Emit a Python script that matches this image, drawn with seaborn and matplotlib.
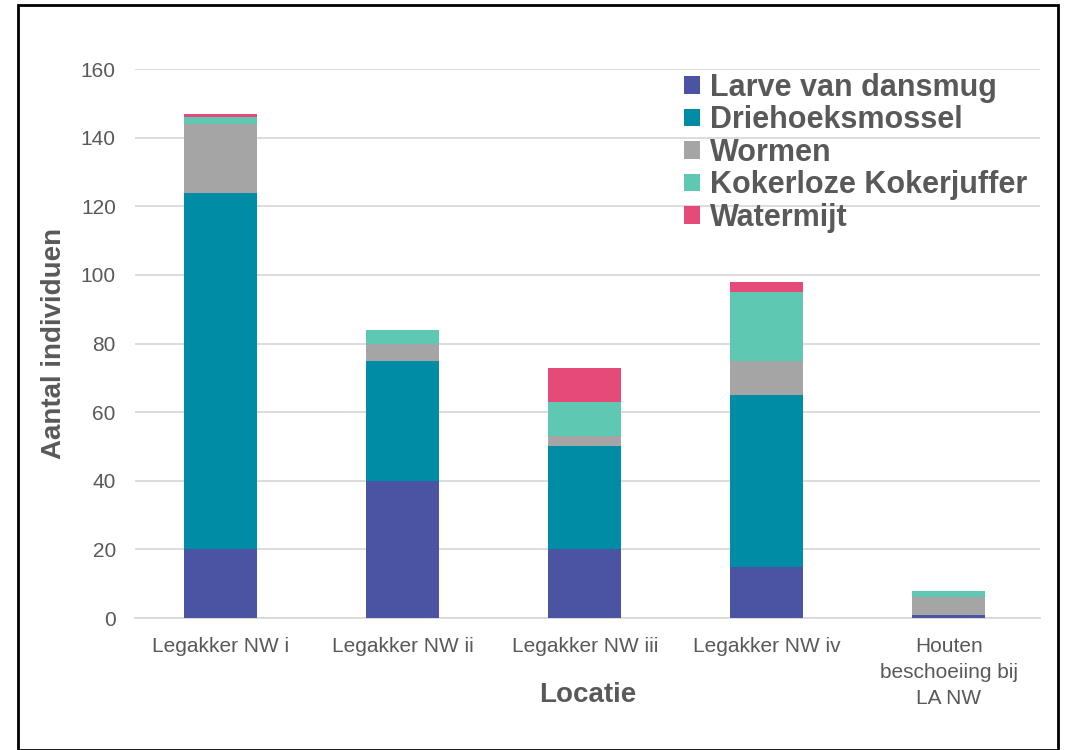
import numpy as np
import pandas as pd
import matplotlib
matplotlib.use("Agg")
import matplotlib.pyplot as plt
import seaborn as sns

# data
locations = ["Legakker NW i", "Legakker NW ii", "Legakker NW iii", "Legakker NW iv",
             "Houten\nbeschoeiing bij\nLA NW"]
larve = [20, 40, 20, 15, 1]
driehoek = [104, 35, 30, 50, 0]
wormen = [20, 5, 3, 10, 5]
kokerloze = [2, 4, 10, 20, 2]
watermijt = [1, 0, 10, 3, 0]

series = ["Larve van dansmug", "Driehoeksmossel", "Wormen", "Kokerloze Kokerjuffer", "Watermijt"]
colors = ["#4A54A3", "#008CA5", "#A5A5A5", "#5FC8B3", "#E54A79"]

df = pd.DataFrame({"Locatie": locations, series[0]: larve, series[1]: driehoek,
                   series[2]: wormen, series[3]: kokerloze, series[4]: watermijt})

sns.set_theme(style="white")
plt.rcParams["font.family"] = ["Liberation Sans", "DejaVu Sans"]
txt = "#595959"

fig = plt.figure(figsize=(10.73, 7.5), dpi=100)
ax = fig.add_axes([0.126, 0.176, 0.843, 0.732])

# stacked bars with seaborn, one layer at a time
bottom = np.zeros(len(locations))
for name, col in zip(series, colors):
    sns.barplot(data=df, x="Locatie", y=name, bottom=bottom, color=col, width=0.4,
                saturation=1, linewidth=0, label=name, ax=ax, zorder=3)
    bottom = bottom + df[name].values

ax.set_ylim(0, 160)
ax.set_yticks(range(0, 161, 20))
ax.set_xlim(-0.47, 4.5)
ax.yaxis.grid(True, color="#D9D9D9", linewidth=1.3, zorder=0)
for s in ["top", "right", "left"]:
    ax.spines[s].set_visible(False)
ax.spines["bottom"].set_color("#D9D9D9")
ax.spines["bottom"].set_linewidth(1.3)
ax.tick_params(axis="both", labelsize=15, colors=txt, length=0)
ax.tick_params(axis="x", pad=14)
ax.tick_params(axis="y", pad=14)
for lbl in ax.get_xticklabels():
    lbl.set_linespacing(1.45)

ax.set_ylabel("Aantal individuen", fontsize=20, fontweight="bold", color=txt, labelpad=10)
ax.set_xlabel("Locatie", fontsize=20, fontweight="bold", color=txt)
ax.xaxis.set_label_coords(0.5, -0.14)
ax.xaxis.label.set_va("center")

leg = ax.legend(loc="upper right", bbox_to_anchor=(1.0, 1.015), frameon=False,
                fontsize=22, handlelength=0.5, handleheight=0.5, handletextpad=0.35,
                labelspacing=0.08, borderaxespad=0)
for t in leg.get_texts():
    t.set_color(txt)
    t.set_fontweight("bold")

# frame around the whole picture
fig.patches.append(plt.Rectangle((18 / 1073, 0.0), 1040 / 1073, 1 - 5 / 750,
                                 transform=fig.transFigure, fill=False,
                                 edgecolor="black", linewidth=2))

fig.savefig("out.png", dpi=100)
